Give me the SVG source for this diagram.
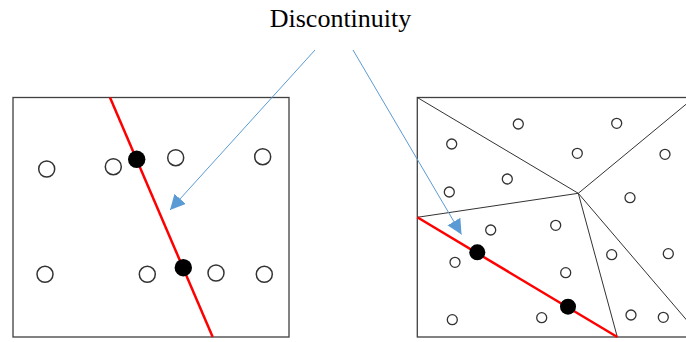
<svg xmlns="http://www.w3.org/2000/svg" width="686" height="342" viewBox="0 0 686 342">
<style>
.frame{fill:none;stroke:#404040;stroke-width:1.3}
.edge{fill:none;stroke:#333;stroke-width:1}
.red{fill:none;stroke:#ff0000;stroke-width:2.5}
.big{fill:#fff;stroke:#333;stroke-width:1.5}
.small{fill:#fff;stroke:#333;stroke-width:1.3}
.dot{fill:#000}
.arrow{fill:none;stroke:#5b9bd5;stroke-width:1}
.title{font-family:"Liberation Serif",serif;font-size:26px;fill:#000}
</style>
<defs>
<marker id="ah" markerUnits="userSpaceOnUse" markerWidth="16" markerHeight="16" refX="15" refY="7.5" orient="auto">
<path d="M0,0 L15,7.5 L0,15 z" fill="#5b9bd5"/>
</marker>
</defs>
<rect width="686" height="342" fill="#fff"/>
<g id="label"><text class="title" x="340.5" y="26.5" text-anchor="middle">Discontinuity</text></g>
<g id="left-panel">
<rect class="frame" x="13" y="97.5" width="276" height="239.5"/>
<line class="red" x1="110" y1="97.5" x2="212.7" y2="337"/>
<circle class="big" cx="46.7" cy="169" r="8"/>
<circle class="big" cx="113.3" cy="166.7" r="8"/>
<circle class="big" cx="175.7" cy="157.7" r="8"/>
<circle class="big" cx="262.7" cy="156.7" r="8"/>
<circle class="big" cx="45" cy="274.3" r="8"/>
<circle class="big" cx="147.3" cy="274.3" r="8"/>
<circle class="big" cx="216" cy="273" r="8"/>
<circle class="big" cx="264.3" cy="274.3" r="8"/>
<circle class="dot" cx="136.7" cy="159.3" r="8.7"/>
<circle class="dot" cx="183.3" cy="267.7" r="8.7"/>
</g>
<g id="right-panel">
<rect class="frame" x="417.3" y="97.5" width="280" height="239.5"/>
<line class="edge" x1="417.3" y1="97.5" x2="578.3" y2="193.3"/>
<line class="edge" x1="578.3" y1="193.3" x2="690" y2="101"/>
<line class="edge" x1="578.3" y1="193.3" x2="417.3" y2="217.3"/>
<line class="edge" x1="578.3" y1="193.3" x2="617.3" y2="337"/>
<line class="edge" x1="578.3" y1="193.3" x2="690" y2="324"/>
<line class="red" x1="417.3" y1="217.3" x2="617.3" y2="337"/>
<circle class="small" cx="518.3" cy="124" r="5"/>
<circle class="small" cx="616.7" cy="123.3" r="5"/>
<circle class="small" cx="451.7" cy="144" r="5"/>
<circle class="small" cx="577.3" cy="153.3" r="5"/>
<circle class="small" cx="665" cy="154.3" r="5"/>
<circle class="small" cx="507.3" cy="179" r="5"/>
<circle class="small" cx="449.3" cy="192" r="5"/>
<circle class="small" cx="630" cy="197.7" r="5"/>
<circle class="small" cx="490.7" cy="230" r="5"/>
<circle class="small" cx="555.7" cy="225.3" r="5"/>
<circle class="small" cx="455" cy="262.3" r="5"/>
<circle class="small" cx="611.7" cy="254.7" r="5"/>
<circle class="small" cx="668.3" cy="253.7" r="5"/>
<circle class="small" cx="565.7" cy="272.7" r="5"/>
<circle class="small" cx="452.3" cy="319.7" r="5"/>
<circle class="small" cx="541.7" cy="317.7" r="5"/>
<circle class="small" cx="631" cy="315" r="5"/>
<circle class="small" cx="663.3" cy="317.3" r="5"/>
<circle class="dot" cx="477.3" cy="252.3" r="8"/>
<circle class="dot" cx="568" cy="306.7" r="8"/>
</g>
<g id="connectors">
<line class="arrow" x1="315" y1="50" x2="170" y2="210" marker-end="url(#ah)"/>
<line class="arrow" x1="353" y1="50" x2="461.5" y2="234.5" marker-end="url(#ah)"/>
</g>
</svg>
